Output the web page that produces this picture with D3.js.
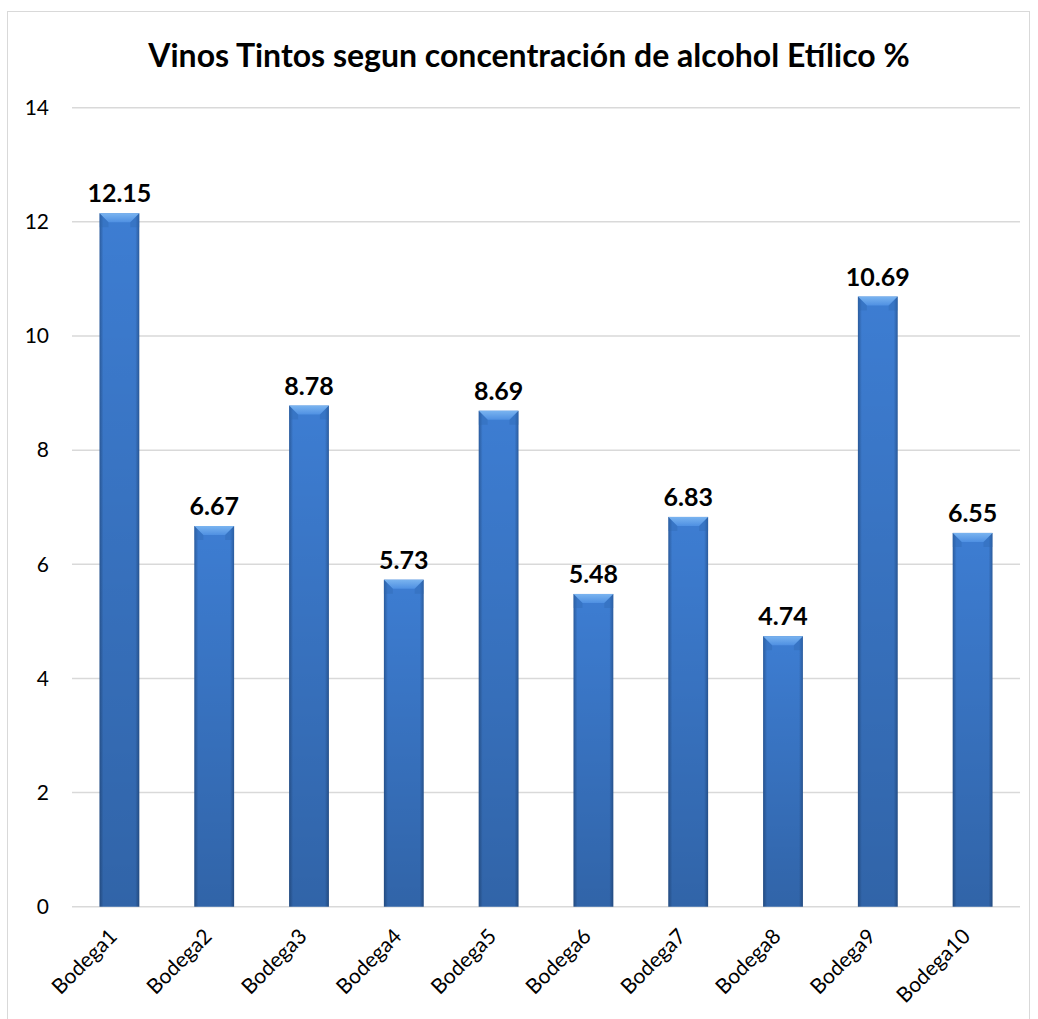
<!DOCTYPE html>
<html>
<head>
<meta charset="utf-8">
<script src="https://cdn.jsdelivr.net/npm/d3@7"></script>
<style>
  body { margin: 0; background: #fff; }
  text { font-family: Lato, "Open Sans", sans-serif; }
</style>
</head>
<body>
<script>
// bodegas and alcohol %
var bodegas = ["Bodega1", "Bodega2", "Bodega3", "Bodega4", "Bodega5",
	"Bodega6", "Bodega7", "Bodega8", "Bodega9", "Bodega10"];
var alcohol = [12.15, 6.67, 8.78, 5.73, 8.69, 5.48, 6.83, 4.74, 10.69, 6.55];
var yTicks = [0, 2, 4, 6, 8, 10, 12, 14];

var fullWidth = 1038, fullHeight = 1019;
var margin = {top: 107.7, right: 18, bottom: 112.3, left: 72},
	width = fullWidth - margin.left - margin.right,
	height = fullHeight - margin.top - margin.bottom;

var svg = d3.select("body").append("svg")
	.attr("width", fullWidth)
	.attr("height", fullHeight);

// chart frame
svg.append("rect")
	.attr("x", 7.5).attr("y", 11.5)
	.attr("width", 1022).attr("height", 1020)
	.attr("fill", "none")
	.attr("stroke", "#d9d9d9");

var defs = svg.append("defs");
var side = defs.append("linearGradient").attr("id", "side")
	.attr("x1", 0).attr("x2", 1).attr("y1", 0).attr("y2", 0);
side.append("stop").attr("offset", "0%").attr("stop-color", "#2b5c9e");
side.append("stop").attr("offset", "10%").attr("stop-color", "#3d7dd2");
side.append("stop").attr("offset", "90%").attr("stop-color", "#3d7dd2");
side.append("stop").attr("offset", "100%").attr("stop-color", "#2b5c9e");
var shade = defs.append("linearGradient").attr("id", "shade")
	.attr("x1", 0).attr("x2", 0).attr("y1", 0).attr("y2", 1);
shade.append("stop").attr("offset", "0%").attr("stop-color", "#000").attr("stop-opacity", 0);
shade.append("stop").attr("offset", "100%").attr("stop-color", "#000").attr("stop-opacity", 0.2);
var bevel = defs.append("linearGradient").attr("id", "bevel")
	.attr("x1", 0).attr("x2", 0).attr("y1", 0).attr("y2", 1);
bevel.append("stop").attr("offset", "0%").attr("stop-color", "#7ab4f0");
bevel.append("stop").attr("offset", "100%").attr("stop-color", "#4f90e2");

var g = svg.append("g")
	.attr("transform", "translate(" + margin.left + "," + margin.top + ")");

var xScale = d3.scaleBand().domain(bodegas).range([0, width]).paddingInner(0.58).paddingOuter(0.29);
var yScale = d3.scaleLinear().domain([0, 14]).range([height, 0]);

// title
svg.append("text")
	.attr("x", 529)
	.attr("y", 67)
	.attr("text-anchor", "middle")
	.style("font-size", "32px")
	.style("font-weight", "bold")
	.text("Vinos Tintos segun concentración de alcohol Etílico %");

// gridlines
g.selectAll(".grid")
	.data(yTicks)
	.enter().append("line")
		.attr("x1", 0).attr("x2", width)
		.attr("y1", function(d) { return yScale(d); })
		.attr("y2", function(d) { return yScale(d); })
		.attr("stroke", "#d9d9d9")
		.attr("stroke-width", 1.5);

var yAxis = d3.axisLeft(yScale).tickValues(yTicks).tickSize(0).tickPadding(23);
g.append("g").call(yAxis)
	.call(function(a) { a.select(".domain").remove(); })
	.selectAll("text")
		.style("font-size", "21px")
		.style("font-family", "Lato, sans-serif")
		.attr("fill", "#000");

var bw = xScale.bandwidth();
var bars = g.selectAll(".bar")
	.data(alcohol)
	.enter().append("g")
		.attr("class", "bar")
		.attr("transform", function(d, i) { return "translate(" + xScale(bodegas[i]) + ",0)"; });

bars.append("rect")
	.attr("y", function(d) { return yScale(d); })
	.attr("width", bw)
	.attr("height", function(d) { return height - yScale(d); })
	.attr("fill", "url(#side)");
bars.append("rect")
	.attr("y", function(d) { return yScale(d); })
	.attr("width", bw)
	.attr("height", function(d) { return height - yScale(d); })
	.attr("fill", "url(#shade)");
// bevel on top
bars.append("path")
	.attr("d", function(d) {
		var t = yScale(d);
		return "M0," + t + "L" + bw + "," + t + "L" + (bw - 9) + "," + (t + 9) + "L9," + (t + 9) + "Z";
	})
	.attr("fill", "url(#bevel)");
bars.append("path")
	.attr("d", function(d) {
		var t = yScale(d);
		return "M0," + t + "L9," + (t + 9) + "L9," + (t + 14) + "L0," + (t + 14) + "Z"
			+ "M" + bw + "," + t + "L" + (bw - 9) + "," + (t + 9) + "L" + (bw - 9) + "," + (t + 14) + "L" + bw + "," + (t + 14) + "Z";
	})
	.attr("fill", "#2f66b0").attr("opacity", 0.35);

bars.append("text")
	.attr("x", bw / 2)
	.attr("y", function(d) { return yScale(d) - 11; })
	.attr("text-anchor", "middle")
	.style("font-size", "25px")
	.style("font-weight", "bold")
	.text(function(d) { return d.toFixed(2); });

// x labels
g.selectAll(".xlab")
	.data(bodegas)
	.enter().append("text")
		.attr("class", "xlab")
		.attr("text-anchor", "end")
		.attr("transform", function(d) {
			return "translate(" + (xScale(d) + bw / 2 - 1) + "," + (height + 31) + ") rotate(-45)";
		})
		.style("font-size", "21px")
		.text(function(d) { return d; });
</script>
</body>
</html>
